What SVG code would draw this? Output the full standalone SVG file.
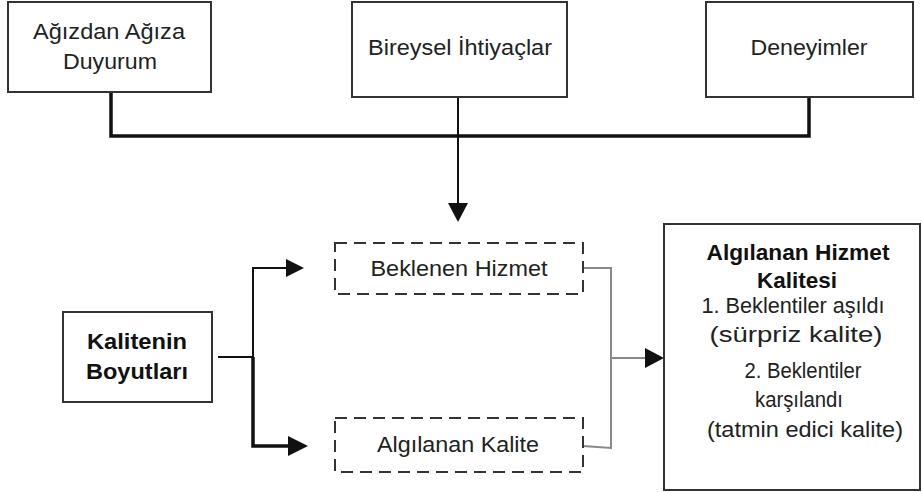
<svg xmlns="http://www.w3.org/2000/svg" width="922" height="492" viewBox="0 0 922 492">
<style>
.box{fill:#fff;stroke:#333;stroke-width:2}
.dash{fill:#fff;stroke:#333;stroke-width:2;stroke-dasharray:12 7}
.t{font-family:"Liberation Sans",Arial,sans-serif;font-size:22px;fill:#222;text-anchor:middle}
.b{font-weight:bold;fill:#111}
.ln{fill:none;stroke:#111;stroke-width:2}
.thick{fill:none;stroke:#111;stroke-width:3.5}
.gray{fill:none;stroke:#888;stroke-width:2}
</style>
<g id="connectors">
<polyline class="thick" points="111,92 111,136 809,136 809,97"/>
<line class="ln" x1="458" y1="97" x2="458" y2="205"/>
<path d="M448,203 L468,203 L458,222 z" fill="#111"/>
<polyline class="ln" points="218,357 253,357"/>
<polyline class="ln" points="286,268 253,268 253,357"/>
<polyline class="thick" points="253,357 253,446 288,446"/>
<path d="M286,259 L304,268 L286,277 z" fill="#111"/>
<path d="M288,436 L308,446 L288,456 z" fill="#111"/>
<polyline class="gray" points="583,268 611,268 611,448 583,446"/>
<line class="gray" x1="611" y1="358" x2="647" y2="358"/>
<path d="M645,348 L664,358 L645,368 z" fill="#111"/>
</g>
<g id="n1">
<rect class="box" x="8" y="2" width="203" height="90"/>
<text class="t" x="109" y="39" textLength="152" lengthAdjust="spacingAndGlyphs">Ağızdan Ağıza</text>
<text class="t" x="110" y="69" textLength="94" lengthAdjust="spacingAndGlyphs">Duyurum</text>
</g>
<g id="n2">
<rect class="box" x="352" y="2" width="215" height="95"/>
<text class="t" x="460" y="55" textLength="184" lengthAdjust="spacingAndGlyphs">Bireysel İhtiyaçlar</text>
</g>
<g id="n3">
<rect class="box" x="706" y="2" width="207" height="95"/>
<text class="t" x="809" y="55" textLength="117" lengthAdjust="spacingAndGlyphs">Deneyimler</text>
</g>
<g id="n4">
<rect class="dash" x="335" y="243" width="248" height="51"/>
<text class="t" x="459" y="276" textLength="177" lengthAdjust="spacingAndGlyphs">Beklenen Hizmet</text>
</g>
<g id="n5">
<rect class="dash" x="335" y="418" width="248" height="54"/>
<text class="t" x="458" y="452" textLength="162" lengthAdjust="spacingAndGlyphs">Algılanan Kalite</text>
</g>
<g id="n6">
<rect class="box" x="63" y="312" width="149" height="90"/>
<text class="t b" x="137" y="349" textLength="100" lengthAdjust="spacingAndGlyphs">Kalitenin</text>
<text class="t b" x="137" y="379" textLength="102" lengthAdjust="spacingAndGlyphs">Boyutları</text>
</g>
<g id="n7">
<rect class="box" x="664" y="224" width="256" height="266"/>
<text class="t b" x="798" y="260" textLength="183" lengthAdjust="spacingAndGlyphs">Algılanan Hizmet</text>
<text class="t b" x="797" y="288" textLength="80" lengthAdjust="spacingAndGlyphs">Kalitesi</text>
<text class="t" x="793" y="313" textLength="183" lengthAdjust="spacingAndGlyphs">1. Beklentiler aşıldı</text>
<text class="t" x="796" y="342" textLength="173" lengthAdjust="spacingAndGlyphs">(sürpriz kalite)</text>
<text class="t" x="803" y="378" textLength="117" lengthAdjust="spacingAndGlyphs">2. Beklentiler</text>
<text class="t" x="799" y="407" textLength="88" lengthAdjust="spacingAndGlyphs">karşılandı</text>
<text class="t" x="805" y="437" textLength="196" lengthAdjust="spacingAndGlyphs">(tatmin edici kalite)</text>
</g>
</svg>
